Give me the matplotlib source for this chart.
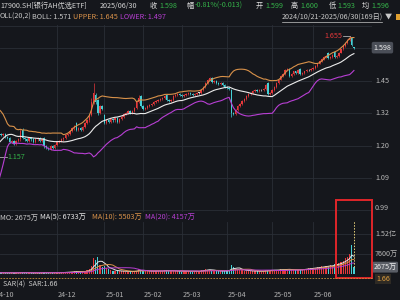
import numpy as np
import pandas as pd
import matplotlib
matplotlib.use("Agg")
import matplotlib.pyplot as plt
from matplotlib.patches import Rectangle
from matplotlib.lines import Line2D

plt.rcParams['font.family'] = ['Noto Sans CJK SC', 'DejaVu Sans']

# --- data ---
# 19 closes before 2024/10/21, only used to warm up BOLL(20,2)
pre_closes = [1.05, 1.06, 1.06, 1.07, 1.08, 1.09, 1.12, 1.17, 1.21, 1.26,
              1.28, 1.25, 1.24, 1.25, 1.23, 1.24, 1.25, 1.23, 1.24]

closes = [1.23, 1.24, 1.23, 1.24, 1.235, 1.24, 1.23, 1.225, 1.21, 1.215,
          1.205, 1.215, 1.22, 1.25, 1.225, 1.22, 1.215, 1.225, 1.22, 1.21,
          1.22, 1.225, 1.215, 1.22, 1.195, 1.19, 1.185, 1.195, 1.19, 1.20,
          1.21, 1.215, 1.22, 1.225, 1.235, 1.24, 1.25, 1.26, 1.27, 1.255,
          1.26, 1.255, 1.265, 1.28, 1.29, 1.31, 1.36, 1.40, 1.36, 1.32,
          1.345, 1.335, 1.28, 1.29, 1.285, 1.295, 1.29, 1.30, 1.285, 1.295,
          1.305, 1.315, 1.32, 1.325, 1.32, 1.325, 1.34, 1.36, 1.38, 1.345,
          1.335, 1.34, 1.345, 1.35, 1.355, 1.36, 1.365, 1.37, 1.375, 1.38,
          1.385, 1.37, 1.365, 1.37, 1.385, 1.39, 1.395, 1.39, 1.385, 1.39,
          1.395, 1.40, 1.395, 1.39, 1.395, 1.40, 1.40, 1.41, 1.425, 1.44,
          1.455, 1.46, 1.445, 1.45, 1.44, 1.435, 1.44, 1.43, 1.425, 1.42,
          1.415, 1.32, 1.315, 1.33, 1.345, 1.355, 1.365, 1.375, 1.385, 1.395,
          1.40, 1.405, 1.41, 1.405, 1.41, 1.41, 1.415, 1.43, 1.395, 1.40,
          1.41, 1.425, 1.44, 1.455, 1.47, 1.48, 1.495, 1.50, 1.47, 1.48,
          1.49, 1.485, 1.495, 1.48, 1.485, 1.49, 1.495, 1.495, 1.50, 1.505,
          1.515, 1.525, 1.535, 1.545, 1.555, 1.56, 1.55, 1.555, 1.565, 1.555,
          1.56, 1.575, 1.59, 1.605, 1.62, 1.635, 1.645, 1.611, 1.598]

opens = [1.24, 1.23, 1.24, 1.23, 1.24, 1.235, 1.24, 1.23, 1.225, 1.21,
         1.215, 1.205, 1.215, 1.22, 1.255, 1.225, 1.22, 1.215, 1.225, 1.22,
         1.21, 1.22, 1.225, 1.215, 1.225, 1.195, 1.19, 1.185, 1.195, 1.19,
         1.20, 1.21, 1.215, 1.22, 1.225, 1.235, 1.24, 1.25, 1.26, 1.28,
         1.255, 1.26, 1.255, 1.265, 1.28, 1.29, 1.31, 1.36, 1.39, 1.37,
         1.32, 1.345, 1.31, 1.28, 1.29, 1.285, 1.295, 1.29, 1.30, 1.285,
         1.295, 1.305, 1.315, 1.32, 1.325, 1.32, 1.325, 1.34, 1.36, 1.385,
         1.345, 1.335, 1.34, 1.345, 1.35, 1.355, 1.36, 1.365, 1.37, 1.375,
         1.38, 1.39, 1.37, 1.365, 1.37, 1.385, 1.39, 1.395, 1.39, 1.385,
         1.39, 1.395, 1.40, 1.395, 1.39, 1.395, 1.40, 1.40, 1.41, 1.425,
         1.44, 1.455, 1.46, 1.445, 1.45, 1.44, 1.435, 1.44, 1.43, 1.425,
         1.42, 1.41, 1.32, 1.315, 1.33, 1.345, 1.355, 1.365, 1.375, 1.385,
         1.395, 1.40, 1.405, 1.41, 1.405, 1.41, 1.41, 1.415, 1.44, 1.395,
         1.40, 1.41, 1.425, 1.44, 1.455, 1.47, 1.48, 1.495, 1.50, 1.47,
         1.48, 1.49, 1.485, 1.50, 1.48, 1.485, 1.49, 1.495, 1.495, 1.50,
         1.505, 1.515, 1.525, 1.535, 1.545, 1.555, 1.575, 1.55, 1.555, 1.58,
         1.555, 1.56, 1.575, 1.59, 1.605, 1.62, 1.635, 1.645, 1.599]

highs = [1.244, 1.244, 1.244, 1.244, 1.244, 1.244, 1.244, 1.234, 1.229, 1.219,
         1.219, 1.219, 1.224, 1.258, 1.26, 1.229, 1.224, 1.229, 1.229, 1.224,
         1.224, 1.229, 1.229, 1.224, 1.229, 1.199, 1.194, 1.199, 1.199, 1.204,
         1.214, 1.219, 1.224, 1.229, 1.239, 1.244, 1.254, 1.264, 1.274, 1.284,
         1.264, 1.264, 1.269, 1.284, 1.294, 1.314, 1.38, 1.44, 1.40, 1.375,
         1.35, 1.35, 1.315, 1.294, 1.294, 1.299, 1.299, 1.304, 1.304, 1.299,
         1.309, 1.319, 1.324, 1.329, 1.329, 1.329, 1.344, 1.364, 1.39, 1.389,
         1.349, 1.344, 1.349, 1.354, 1.359, 1.364, 1.369, 1.374, 1.379, 1.384,
         1.389, 1.394, 1.374, 1.374, 1.389, 1.394, 1.399, 1.399, 1.394, 1.394,
         1.399, 1.404, 1.404, 1.399, 1.399, 1.404, 1.404, 1.414, 1.429, 1.444,
         1.459, 1.466, 1.464, 1.454, 1.454, 1.444, 1.444, 1.444, 1.434, 1.429,
         1.424, 1.414, 1.324, 1.334, 1.349, 1.359, 1.369, 1.379, 1.389, 1.399,
         1.404, 1.409, 1.414, 1.414, 1.414, 1.414, 1.419, 1.436, 1.444, 1.404,
         1.414, 1.429, 1.444, 1.459, 1.474, 1.484, 1.499, 1.504, 1.504, 1.484,
         1.494, 1.494, 1.499, 1.504, 1.489, 1.494, 1.499, 1.499, 1.504, 1.509,
         1.519, 1.529, 1.539, 1.549, 1.559, 1.564, 1.579, 1.559, 1.569, 1.584,
         1.564, 1.579, 1.594, 1.609, 1.624, 1.639, 1.655, 1.648, 1.600]

lows = [1.226, 1.226, 1.157, 1.226, 1.231, 1.231, 1.226, 1.221, 1.206, 1.206,
        1.201, 1.201, 1.211, 1.216, 1.221, 1.216, 1.211, 1.211, 1.216, 1.206,
        1.206, 1.216, 1.211, 1.211, 1.19, 1.186, 1.181, 1.181, 1.186, 1.186,
        1.196, 1.206, 1.211, 1.216, 1.221, 1.231, 1.236, 1.246, 1.256, 1.251,
        1.251, 1.251, 1.251, 1.261, 1.276, 1.286, 1.306, 1.352, 1.355, 1.312,
        1.316, 1.33, 1.275, 1.276, 1.281, 1.281, 1.286, 1.286, 1.281, 1.281,
        1.291, 1.301, 1.311, 1.316, 1.316, 1.316, 1.321, 1.336, 1.356, 1.341,
        1.331, 1.331, 1.336, 1.341, 1.346, 1.351, 1.356, 1.361, 1.366, 1.371,
        1.376, 1.366, 1.361, 1.361, 1.366, 1.381, 1.386, 1.386, 1.381, 1.381,
        1.386, 1.391, 1.391, 1.386, 1.386, 1.391, 1.396, 1.396, 1.406, 1.421,
        1.436, 1.451, 1.441, 1.441, 1.436, 1.431, 1.431, 1.426, 1.421, 1.416,
        1.411, 1.305, 1.311, 1.311, 1.326, 1.341, 1.351, 1.361, 1.371, 1.381,
        1.391, 1.396, 1.401, 1.401, 1.401, 1.406, 1.406, 1.411, 1.391, 1.391,
        1.396, 1.406, 1.421, 1.436, 1.451, 1.466, 1.476, 1.491, 1.466, 1.466,
        1.476, 1.481, 1.481, 1.476, 1.476, 1.481, 1.486, 1.491, 1.491, 1.496,
        1.501, 1.511, 1.521, 1.531, 1.541, 1.551, 1.546, 1.546, 1.551, 1.551,
        1.551, 1.556, 1.571, 1.586, 1.601, 1.616, 1.631, 1.606, 1.593]

# volume in 万
volumes = [420, 380, 500, 450, 600, 380, 420, 350, 500, 450,
           400, 380, 520, 700, 600, 450, 400, 380, 420, 350,
           400, 450, 380, 420, 650, 500, 420, 380, 450, 400,
           500, 550, 600, 580, 700, 750, 800, 900, 1000, 1100,
           800, 750, 900, 1200, 1500, 2000,
           3000, 6000, 5200, 6500, 3500, 2800, 3000, 2200, 1800, 1500,
           1200, 1100, 1000, 1300, 1100, 1000, 900, 950, 1000, 900, 1100, 1300, 1800, 1500,
           1200, 1000, 1100, 1000, 1200, 1100, 1000, 1300, 1200, 1100,
           1500, 1400, 1200, 1000, 1300, 1200, 1000, 1100, 900, 1000,
           1100, 1200, 1000, 900, 1000, 1100, 900, 1500, 1600, 1800,
           1700, 1500, 1300, 1200, 1100, 1000, 1200, 1100, 1300, 1200, 1500,
           3500, 2600, 2000, 1800, 1500,
           1400, 1300, 1200, 1300, 1100, 1000, 1100, 1200, 1000, 900,
           1100, 1500, 1600, 1300, 1400, 1500, 1600, 1700, 1800, 1600,
           1700, 1800, 1900, 1500, 1400,
           1500, 1600, 1800, 1700, 1900, 2000, 2100, 2300,
           2200, 2400, 2600, 2500, 3000, 2800, 3200, 2900, 3300, 3200,
           3800, 4000, 4200, 4500, 4865,
           6000, 6500, 7470, 11020, 2675]

month_starts = [30, 52, 70, 88, 109, 130, 149]
month_labels = ['24-12', '25-01', '25-02', '25-03', '25-04', '25-05', '25-06']
price_grid = [1.595, 1.45, 1.318, 1.198, 1.089, 0.990]
price_labels = ['', '1.45', '1.32', '1.20', '1.09', '0.99']
vol_grid = [15200, 7600]
vol_labels = ['1.52亿', '7600万']

# --- colours ---
BG = '#15171c'
GRID = '#2a2e36'
RED = '#e5383b'
CYAN = '#45d0d6'
GRAY = '#b9b9b9'
GREEN = '#35b44a'
ORANGE = '#d9924a'
PURPLE = '#b83fd4'
FS = 5.15

W, H = 400, 300


def fbox(x0, y0, x1, y1):
    return [x0 / W, 1 - y1 / H, (x1 - x0) / W, (y1 - y0) / H]


def ftext(x, y, s, color=GRAY, **kw):
    fig.text(x / W, 1 - y / H, s, color=color, fontsize=FS, va='center', ha='left', **kw)


def price_at(y):  # log price axis: y pixel -> price
    return 1.45 * np.exp((80.7 - y) / 340)


PX0, PXK = -7.6, 2.152  # pixel of candle 0, pixels per candle
XLIM = (-PX0 / PXK, (372 - PX0) / PXK)
n = len(closes)
idx = np.arange(n)

# bollinger
s = pd.Series(pre_closes + closes)
mid = s.rolling(20).mean().values[len(pre_closes):]
sd = s.rolling(20).std(ddof=0).values[len(pre_closes):]
upper = mid + 2 * sd
lower = mid - 2 * sd

vs = pd.Series(volumes)
vma5 = vs.rolling(5, min_periods=1).mean()
vma10 = vs.rolling(10, min_periods=1).mean()
vma20 = vs.rolling(20, min_periods=1).mean()

fig = plt.figure(figsize=(4, 3), dpi=100)
fig.patch.set_facecolor(BG)

# --- price panel ---
ax = fig.add_axes(fbox(0, 25, 372, 212))
ax.set_facecolor(BG)
ax.set_yscale('log')
ax.set_xlim(*XLIM)
ax.set_ylim(price_at(212), price_at(25))
for p in price_grid:
    ax.axhline(p, color=GRID, lw=0.6, zorder=0)
ax.axhline(price_at(25.5), color=GRID, lw=0.6, zorder=0)
for m in month_starts:
    ax.axvline(m, color=GRID, lw=0.6, zorder=0)

for i in idx:
    o, c = opens[i], closes[i]
    col = RED if c > o else (CYAN if c < o else '#dddddd')
    ax.vlines(i, lows[i], highs[i], color=col, lw=0.5, zorder=2)
    hgt = abs(c - o) if abs(c - o) > 0.002 else 0.002
    ax.bar(i, hgt, bottom=min(o, c), width=0.62, color=col, lw=0, zorder=3)

ax.plot(idx, upper, color=ORANGE, lw=0.8, zorder=4)
ax.plot(idx, mid, color='#ececec', lw=0.8, zorder=4)
ax.plot(idx, lower, color=PURPLE, lw=0.8, zorder=4)

# high / low markers
hi_i = int(np.argmax(highs))
ax.plot([hi_i - 3, hi_i], [highs[hi_i], highs[hi_i]], color='#cfcfcf', lw=0.5)
ax.text(hi_i - 3.2, highs[hi_i], f'{highs[hi_i]:.3f}', color=RED, fontsize=FS,
        ha='right', va='center')
lo_i = int(np.argmin(lows))
ax.plot([lo_i, lo_i + 5], [lows[lo_i], lows[lo_i]], color='#cfcfcf', lw=0.5)
ax.text(lo_i + 5.2, lows[lo_i], f'{lows[lo_i]:.3f}', color=GREEN, fontsize=FS,
        ha='left', va='center')

ytr = ax.get_yaxis_transform()
for p, lab in zip(price_grid, price_labels):
    if lab:
        ax.text(1.008, p * (1.008 if lab == '0.99' else 1.0), lab, transform=ytr,
                color=GRAY, fontsize=FS, ha='left', va='center', clip_on=False)
ax.text(1.004, closes[-1], f'{closes[-1]:.3f}', transform=ytr, color='#f0f0f0',
        fontsize=FS, ha='left', va='center', clip_on=False,
        bbox=dict(boxstyle='round,pad=0.25', fc='#4a4e57', ec='none'))
ax.set_xticks([])
ax.set_yticks([])
ax.minorticks_off()
for sp in ax.spines.values():
    sp.set_visible(False)

# --- volume panel ---
av = fig.add_axes(fbox(0, 222, 372, 274))
av.set_facecolor('none')
av.set_xlim(*XLIM)
av.set_ylim(0, 19760)
for v in vol_grid:
    av.axhline(v, color=GRID, lw=0.6, zorder=0)
for m in month_starts:
    av.axvline(m, color=GRID, lw=0.6, zorder=0)
vcol = [RED if closes[i] >= opens[i] else CYAN for i in idx]
av.bar(idx, volumes, width=0.55, color=vcol, lw=0, zorder=2)
av.plot(idx, vma5, color='#e6e6e6', lw=0.7, zorder=3)
av.plot(idx, vma10, color=ORANGE, lw=0.7, zorder=3)
av.plot(idx, vma20, color=PURPLE, lw=0.7, zorder=3)
av.vlines(idx[-1], volumes[-1], 20800, color='#e8d27a', lw=0.7, ls=(0, (1.5, 1.5)), zorder=4)
vtr = av.get_yaxis_transform()
for v, lab in zip(vol_grid, vol_labels):
    av.text(1.008, v, lab, transform=vtr, color=GRAY, fontsize=FS, ha='left',
            va='center', clip_on=False)
av.text(1.004, 2600, '2675万', transform=vtr, color='#f0f0f0', fontsize=FS,
        ha='left', va='center', clip_on=False,
        bbox=dict(boxstyle='round,pad=0.2', fc='#5a5e66', ec='none'))
av.set_xticks([])
av.set_yticks([])
for sp in av.spines.values():
    sp.set_visible(False)

# SAR strip
fig.add_artist(Line2D([0, 372 / W], [1 - 278 / H, 1 - 278 / H], color='#c9923f',
                      lw=0.6, ls=(0, (2, 1.5))))
ftext(376, 279, '1.66', color='#e0a040',
      bbox=dict(boxstyle='square,pad=0.15', fc='#2e2a24', ec='none'))

# red highlight box
fig.add_artist(Rectangle((336 / W, 1 - 278 / H), 36 / W, 78 / H, fill=False,
                         ec='#e0262a', lw=1.4, transform=fig.transFigure))

# header texts
ftext(0, 6, '17900.SH[银行AH优选ETF]', color='#d4d4d4')
ftext(100, 6, '2025/06/30', color='#d4d4d4')
ftext(150, 6, '收', color='#e0e0e0')
ftext(159, 6, '1.598', color=GREEN)
ftext(187, 6, '幅', color='#e0e0e0')
ftext(195, 6, '-0.81%(-0.013)', color=GREEN)
ftext(256, 6, '开', color='#e0e0e0')
ftext(265, 6, '1.599', color=GREEN)
ftext(291, 6, '高', color='#e0e0e0')
ftext(300, 6, '1.600', color=GREEN)
ftext(329, 6, '低', color='#e0e0e0')
ftext(337, 6, '1.593', color=GREEN)
ftext(362, 6, '均', color='#e0e0e0')
ftext(371, 6, '1.596', color=GREEN)

ftext(0, 17, 'OLL(20,2)', color='#c8c8c8')
ftext(32, 17, 'BOLL: 1.571', color='#c8c8c8')
ftext(73, 17, 'UPPER: 1.645', color=ORANGE)
ftext(120, 17, 'LOWER: 1.497', color=PURPLE)
ftext(282, 17, '2024/10/21-2025/06/30(169日)', color='#c8c8c8')
ftext(385, 17, '▼', color='#c8c8c8')
fig.add_artist(Line2D([282 / W, 382 / W], [1 - 21.5 / H, 1 - 21.5 / H], color='#c8c8c8', lw=0.5))
fig.add_artist(Rectangle((396 / W, 1 - 20 / H), 5 / W, 6 / H, fc='#e0a030', ec='none',
                         transform=fig.transFigure))

ftext(0, 218, 'MO: 2675万', color='#c8c8c8')
ftext(40, 218, 'MA(5): 6733万', color='#e6e6e6')
ftext(92, 218, 'MA(10): 5503万', color=ORANGE)
ftext(145, 218, 'MA(20): 4157万', color=PURPLE)

ftext(3, 285, 'SAR(4)  SAR:1.66', color='#c8c8c8')

# x-axis labels
ftext(-4, 295, '24-10', color='#b0b0b0')
for m, lab in zip(month_starts, month_labels):
    ftext(PX0 + PXK * m + 1, 295, lab, color='#b0b0b0')

fig.savefig('out.png', dpi=100, facecolor=BG)
